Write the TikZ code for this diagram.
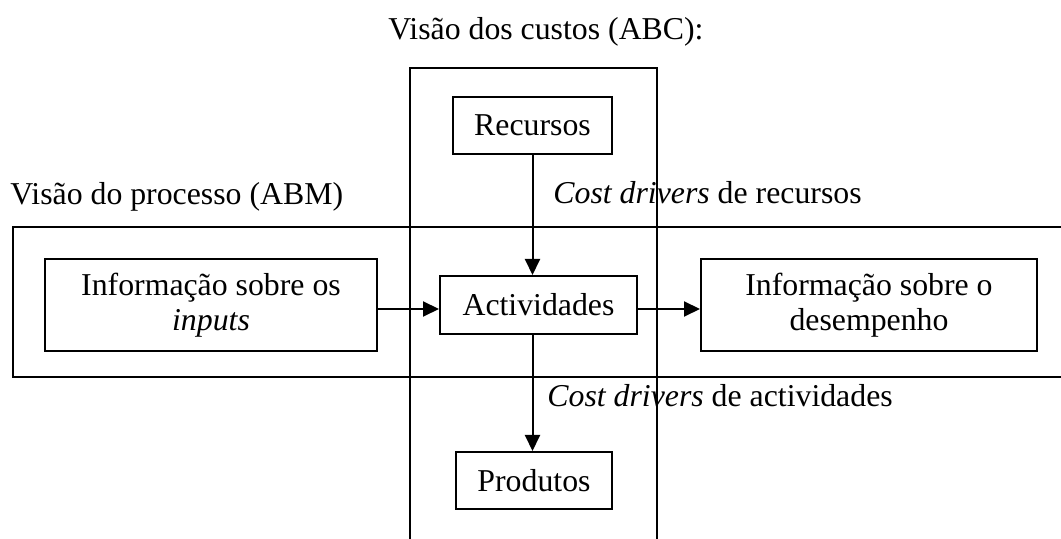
\documentclass[tikz,border=0pt]{standalone}
\usepackage{fontspec}
\setmainfont{Liberation Serif}
\usetikzlibrary{arrows.meta}
\begin{document}
\begin{tikzpicture}[x=0.5pt,y=-0.5pt,
  txt/.style={font=\fontsize{15.9}{17.5}\selectfont},
  box/.style={txt,draw,line width=1pt,inner sep=0pt,align=center},
  lbl/.style={txt,inner sep=0pt,anchor=base west},
  frame/.style={line width=1pt},
  arr/.style={line width=1pt,-{Triangle[length=8pt,width=7.5pt]}}]
\useasboundingbox (0,0) rectangle (1061,539);
\begin{scope}
  \clip (0,0) rectangle (1061,539);
  \draw[frame] (410,68) rectangle (657,570);
  \draw[frame] (13,227) rectangle (1090,377);
\end{scope}
\node[box,minimum width=79.5pt,minimum height=28.5pt] (rec) at (532.5,125.5) {Recursos};
\node[box,minimum width=98.5pt,minimum height=29pt] (act) at (538.5,305) {Actividades};
\node[box,minimum width=166pt,minimum height=46pt] (inp) at (211,305) {Informação sobre os\\\textit{inputs}};
\node[box,minimum width=168pt,minimum height=46pt] (des) at (869,305) {Informação sobre o\\desempenho};
\node[box,minimum width=78pt,minimum height=28.5pt] (prod) at (534,480.5) {Produtos};
\node[lbl] (tabc) at (388,40) {Visão dos custos (ABC):};
\node[lbl] (tabm) at (10,205) {Visão do processo (ABM)};
\node[lbl] (cdr) at (553,204) {\textit{Cost drivers} de recursos};
\node[lbl] (cda) at (547,407) {\textit{Cost drivers} de actividades};
\draw[arr] (rec.south) -- (rec.south |- act.north);
\draw[arr] ([yshift=-2pt]inp.east) -- ([yshift=-2pt]inp.east -| act.west);
\draw[arr] ([yshift=-2pt]act.east) -- ([yshift=-2pt]act.east -| des.west);
\draw[arr] (act.south -| rec.south) -- (rec.south |- prod.north);
\end{tikzpicture}
\end{document}
